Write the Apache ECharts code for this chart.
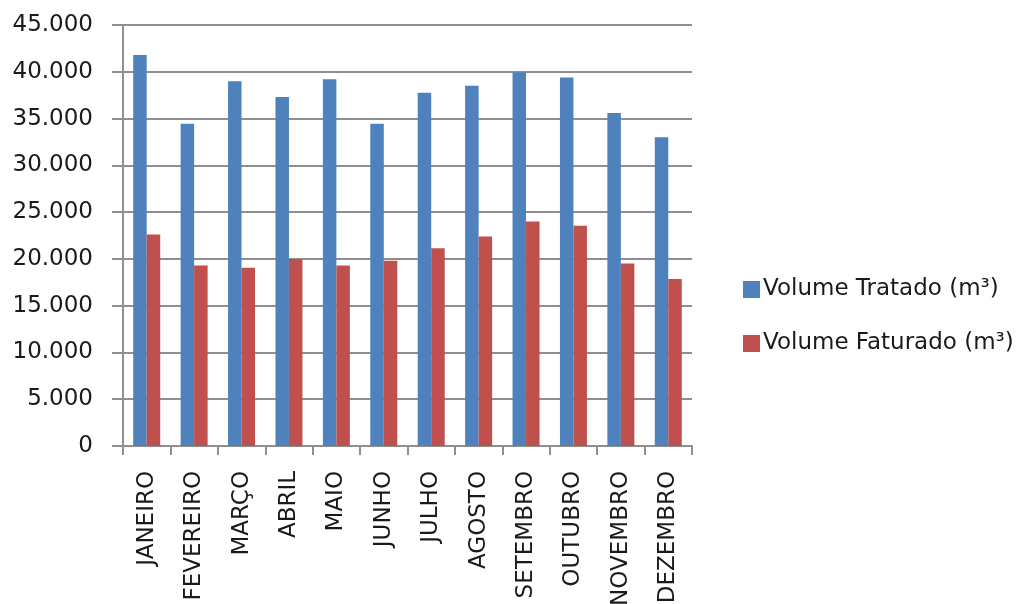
<!DOCTYPE html>
<html>
<head>
<meta charset="utf-8">
<script src="https://cdn.jsdelivr.net/npm/echarts@6/dist/echarts.min.js"></script>
<style>
  html, body { margin: 0; padding: 0; background: #fff; }
  #chart { width: 1026px; height: 604px; }
</style>
</head>
<body>
<div id="chart"></div>
<script>
// Monthly volumes (m³)
const months = ['JANEIRO', 'FEVEREIRO', 'MARÇO', 'ABRIL', 'MAIO', 'JUNHO',
  'JULHO', 'AGOSTO', 'SETEMBRO', 'OUTUBRO', 'NOVEMBRO', 'DEZEMBRO'];
const volumeTratado = [41800, 34450, 39000, 37300, 39200, 34450,
  37750, 38500, 39950, 39400, 35600, 33000];
const volumeFaturado = [22600, 19300, 19050, 20000, 19300, 19800,
  21150, 22400, 24000, 23550, 19500, 17850];
const seriesNames = ['Volume Tratado (m³)', 'Volume Faturado (m³)'];

const axisGray = '#8f8f8f';
const textColor = '#1a1a1a';
const fontFamily = '"DejaVu Sans", Verdana, sans-serif';

// Thousands separator as a dot: 45000 -> 45.000
const fmt = v => String(v).replace(/\B(?=(\d{3})+(?!\d))/g, '.');

const chart = echarts.init(document.getElementById('chart'), null, { renderer: 'canvas' });
chart.setOption({
  animation: false,
  backgroundColor: '#ffffff',
  textStyle: { fontFamily: fontFamily, color: textColor },
  grid: {
    left: 123, right: 334, top: 25, bottom: 158,
    containLabel: false,
    outerBoundsMode: 'none'
  },
  legend: {
    orient: 'vertical',
    left: 738,
    top: 273,
    itemWidth: 17,
    itemHeight: 17,
    itemGap: 31,
    icon: 'rect',
    textStyle: { fontSize: 23, color: textColor, fontFamily: fontFamily, padding: [0, 0, 0, -2] },
    data: seriesNames
  },
  xAxis: {
    type: 'category',
    data: months,
    boundaryGap: true,
    axisLine: { show: true, lineStyle: { color: axisGray, width: 2 } },
    axisTick: { show: true, interval: 0, length: 9, lineStyle: { color: axisGray, width: 2 } },
    axisLabel: {
      interval: 0,
      rotate: 90,
      margin: 25,
      fontSize: 23,
      color: textColor,
      fontFamily: fontFamily,
      hideOverlap: false
    },
    splitLine: { show: false }
  },
  yAxis: {
    type: 'value',
    min: 0,
    max: 45000,
    interval: 5000,
    axisLine: { show: true, lineStyle: { color: axisGray, width: 2 } },
    axisTick: { show: true, length: 11, lineStyle: { color: axisGray, width: 2 } },
    axisLabel: {
      margin: 30,
      fontSize: 23,
      color: textColor,
      fontFamily: fontFamily,
      formatter: fmt
    },
    splitLine: { show: true, lineStyle: { color: axisGray, width: 2 } }
  },
  series: [
    {
      name: seriesNames[0],
      type: 'bar',
      data: volumeTratado,
      barWidth: 13.5,
      barGap: '0%',
      itemStyle: { color: '#4F81BD' }
    },
    {
      name: seriesNames[1],
      type: 'bar',
      data: volumeFaturado,
      barWidth: 13.5,
      barGap: '0%',
      itemStyle: { color: '#C0504D' }
    }
  ]
});
</script>
</body>
</html>
